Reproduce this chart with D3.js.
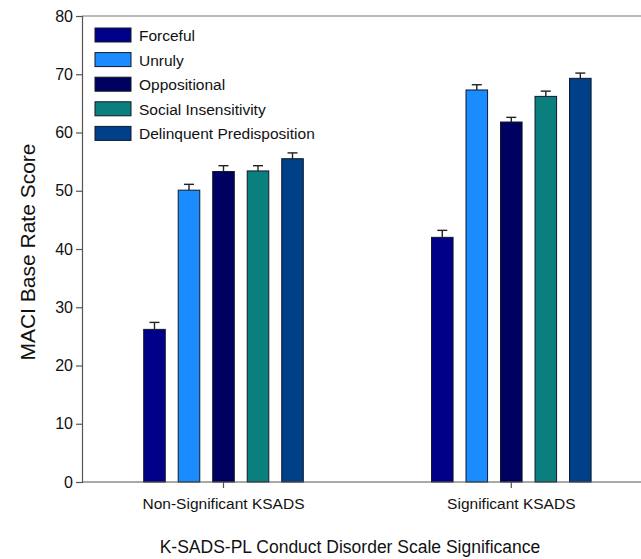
<!DOCTYPE html>
<html>
<head>
<meta charset="utf-8">
<script src="https://cdn.jsdelivr.net/npm/d3@7"></script>
<style>
  body { margin: 0; background: #fff; }
  text { font-family: "Liberation Sans", Arial, sans-serif; fill: #111; }
</style>
</head>
<body>
<svg id="chart" width="641" height="559"></svg>
<script>
// data
var groups = ['Non-Significant KSADS', 'Significant KSADS'];
var series = ['Forceful', 'Unruly', 'Oppositional', 'Social Insensitivity', 'Delinquent Predisposition'];
var nonSig = [26.2, 50.1, 53.3, 53.4, 55.5];
var nonSigErr = [1.2, 1.0, 1.0, 0.9, 1.0];
var sig = [42.0, 67.3, 61.8, 66.2, 69.3];
var sigErr = [1.2, 0.9, 0.8, 0.9, 0.9];
var yTicks = [0, 10, 20, 30, 40, 50, 60, 70, 80];
var colors = ['#000088', '#1a8cff', '#000060', '#0b7f7e', '#004088'];

function draw() {
    var svg = d3.select('#chart');
    var left = 82, mTop = 16, bottom = 482;

    var x0 = d3.scaleBand().domain(groups).range([79.6, 655.2]);
    var x1 = d3.scaleBand().domain(series).range([-79.8, 79.8]).paddingInner(0.375);
    var y = d3.scaleLinear().domain([0, 80]).range([bottom, mTop]);
    var cs = d3.scaleOrdinal().domain(series).range(colors);

    var rows = [];
    groups.forEach(function(g, gi) {
        var vals = gi === 0 ? nonSig : sig;
        var errs = gi === 0 ? nonSigErr : sigErr;
        series.forEach(function(s, si) {
            rows.push({group: g, series: s, value: vals[si], err: errs[si]});
        });
    });

    // top frame line
    svg.append('line')
        .attr('x1', left).attr('x2', 641).attr('y1', mTop).attr('y2', mTop)
        .attr('stroke', '#777').attr('stroke-width', 1.2);

    // bars
    var bx = function(d) { return x0(d.group) + x0.bandwidth() / 2 + x1(d.series); };
    svg.append('g').selectAll('rect')
        .data(rows)
        .enter()
        .append('rect')
            .attr('x', bx)
            .attr('y', function(d) { return y(d.value); })
            .attr('width', x1.bandwidth())
            .attr('height', function(d) { return bottom - y(d.value); })
            .attr('fill', function(d) { return cs(d.series); })
            .attr('stroke', '#10182a')
            .attr('stroke-width', 1);

    // error bars (upper only)
    var eg = svg.append('g').attr('stroke', '#222').attr('stroke-width', 1.4);
    eg.selectAll('.ev')
        .data(rows)
        .enter()
        .append('line')
            .attr('x1', function(d) { return bx(d) + x1.bandwidth() / 2; })
            .attr('x2', function(d) { return bx(d) + x1.bandwidth() / 2; })
            .attr('y1', function(d) { return y(d.value); })
            .attr('y2', function(d) { return y(d.value + d.err); });
    eg.selectAll('.ec')
        .data(rows)
        .enter()
        .append('line')
            .attr('x1', function(d) { return bx(d) + x1.bandwidth() / 2 - 5; })
            .attr('x2', function(d) { return bx(d) + x1.bandwidth() / 2 + 5; })
            .attr('y1', function(d) { return y(d.value + d.err); })
            .attr('y2', function(d) { return y(d.value + d.err); });

    // y axis
    var ya = svg.append('g')
        .attr('transform', 'translate(' + left + ',0)')
        .call(d3.axisLeft(y).tickValues(yTicks).tickSize(6).tickPadding(3));
    ya.selectAll('text').style('font-size', '16px').attr('fill', '#222');
    ya.selectAll('line, path').attr('stroke', '#555').attr('stroke-width', 1.2);

    // x axis
    var xa = svg.append('g')
        .attr('transform', 'translate(0,' + bottom + ')')
        .call(d3.axisBottom(x0).tickSize(6).tickPadding(10));
    xa.select('.domain').remove();
    xa.selectAll('text').style('font-size', '15.5px').attr('fill', '#222');
    xa.selectAll('line').attr('stroke', '#555').attr('stroke-width', 1.2);
    svg.append('line')
        .attr('x1', left).attr('x2', 641).attr('y1', bottom).attr('y2', bottom)
        .attr('stroke', '#555').attr('stroke-width', 1.2);

    // axis titles
    svg.append('text')
        .attr('transform', 'translate(35,' + ((mTop + bottom) / 2 + 3) + ') rotate(-90)')
        .attr('text-anchor', 'middle')
        .style('font-size', '21px')
        .text('MACI Base Rate Score');
    svg.append('text')
        .attr('x', 350).attr('y', 553)
        .attr('text-anchor', 'middle')
        .style('font-size', '17.5px')
        .text('K-SADS-PL Conduct Disorder Scale Significance');

    // legend
    var lg = svg.append('g').selectAll('g')
        .data(series)
        .enter()
        .append('g')
            .attr('transform', function(d, i) { return 'translate(95,' + (28 + i * 24.6) + ')'; });
    lg.append('rect')
        .attr('width', 36).attr('height', 14)
        .attr('fill', function(d) { return cs(d); })
        .attr('stroke', '#10182a').attr('stroke-width', 1);
    lg.append('text')
        .attr('x', 44).attr('y', 13)
        .style('font-size', '15.5px')
        .text(function(d) { return d; });
}

draw();
</script>
</body>
</html>
